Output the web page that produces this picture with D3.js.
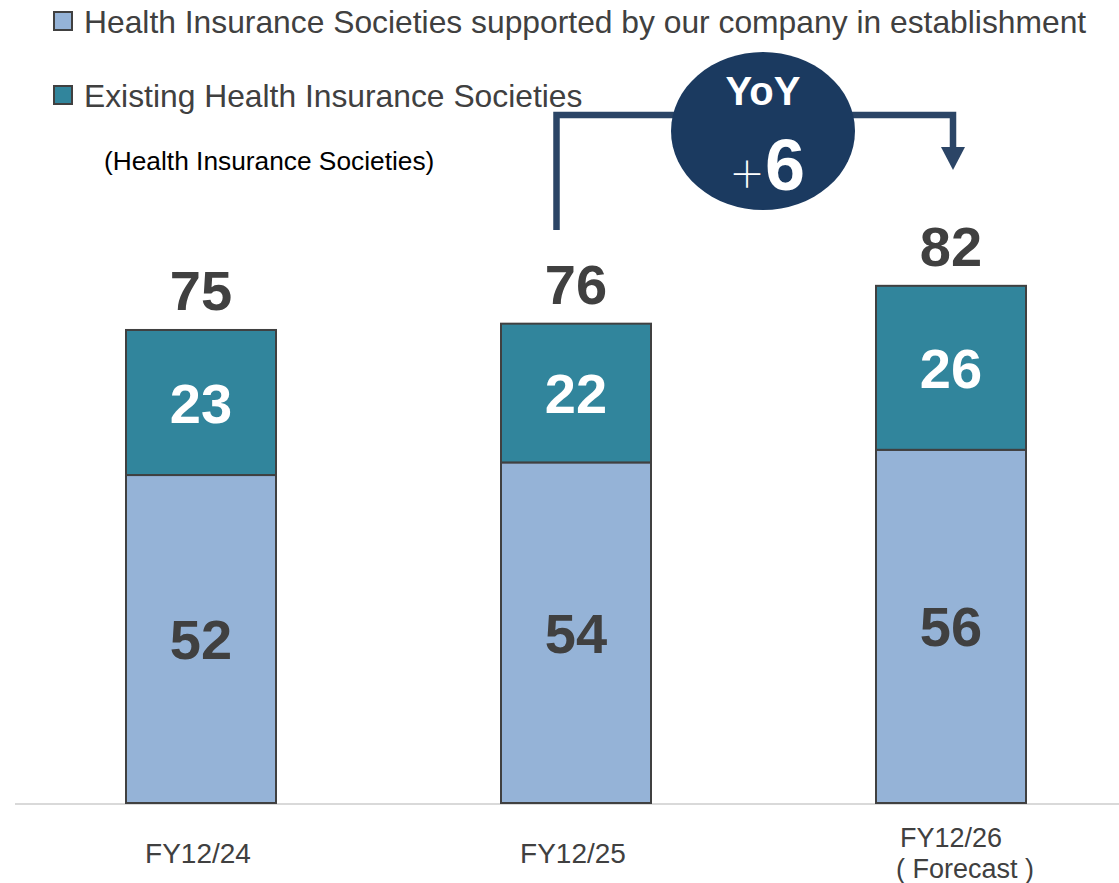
<!DOCTYPE html>
<html>
<head>
<meta charset="utf-8">
<script src="https://cdn.jsdelivr.net/npm/d3@7"></script>
<style>
  html, body { margin: 0; padding: 0; background: #ffffff; }
  svg { display: block; font-family: Arial, "Liberation Sans", sans-serif; }
</style>
</head>
<body>
<svg id="chart" width="1119" height="883"></svg>
<script>
// Fiscal years and their two stacked components
const categories = ["FY12/24", "FY12/25", "FY12/26"];
const categorySubLabels = ["", "", "( Forecast )"];
const supportedValues = [52, 54, 56];   // supported by our company in establishment
const existingValues = [23, 22, 26];    // existing societies
const totalValues = [75, 76, 82];
const seriesNames = [
  "Health Insurance Societies supported by our company in establishment",
  "Existing Health Insurance Societies"
];
const unitLabel = "(Health Insurance Societies)";
const yoyLabel = "YoY";
const yoyDelta = 6;

const colors = { supported: "#95b3d7", existing: "#31859c", stroke: "#404040",
                 text: "#404040", navy: "#1b3a60", connector: "#2b4566" };

const svg = d3.select("#chart");

const x = d3.scaleBand()
  .domain(categories)
  .range([13.5, 1138.5])
  .paddingInner(0.6)
  .paddingOuter(0.3);

const y = d3.scaleLinear().domain([0, 100]).range([803, 172.3]);

const rows = categories.map((c, i) => ({
  cat: c, sub: categorySubLabels[i],
  supported: supportedValues[i], existing: existingValues[i], total: totalValues[i]
}));

const stack = d3.stack().keys(["supported", "existing"]);
const layers = stack(rows);

// Baseline
svg.append("line")
  .attr("x1", 15).attr("x2", 1119)
  .attr("y1", y(0) + 1).attr("y2", y(0) + 1)
  .attr("stroke", "#d9d9d9").attr("stroke-width", 2);

// Stacked bars
const fills = { supported: colors.supported, existing: colors.existing };
layers.forEach(layer => {
  svg.append("g").selectAll("rect")
    .data(layer)
    .join("rect")
    .attr("x", d => x(d.data.cat))
    .attr("width", x.bandwidth())
    .attr("y", d => y(d[1]))
    .attr("height", d => y(d[0]) - y(d[1]))
    .attr("fill", fills[layer.key])
    .attr("stroke", colors.stroke)
    .attr("stroke-width", 2);
});

// Segment value labels
layers.forEach(layer => {
  svg.append("g").selectAll("text")
    .data(layer)
    .join("text")
    .attr("x", d => x(d.data.cat) + x.bandwidth() / 2)
    .attr("y", d => (y(d[0]) + y(d[1])) / 2 + 20)
    .attr("text-anchor", "middle")
    .attr("font-size", 56)
    .attr("font-weight", "bold")
    .attr("fill", layer.key === "existing" ? "#ffffff" : colors.text)
    .text(d => d.data[layer.key]);
});

// Totals above bars
svg.append("g").selectAll("text")
  .data(rows)
  .join("text")
  .attr("x", d => x(d.cat) + x.bandwidth() / 2)
  .attr("y", d => y(d.total) - 20)
  .attr("text-anchor", "middle")
  .attr("font-size", 56)
  .attr("font-weight", "bold")
  .attr("fill", colors.text)
  .text(d => d.total);

// Category labels
const catG = svg.append("g");
rows.forEach(d => {
  const cx = x(d.cat) + x.bandwidth() / 2;
  if (d.sub) {
    catG.append("text").attr("x", cx).attr("y", 847)
      .attr("text-anchor", "middle").attr("font-size", 27).attr("fill", colors.text)
      .text(d.cat);
    catG.append("text").attr("x", cx + 14).attr("y", 878)
      .attr("text-anchor", "middle").attr("font-size", 27).attr("fill", colors.text)
      .text(d.sub);
  } else {
    catG.append("text").attr("x", cx - 3).attr("y", 863)
      .attr("text-anchor", "middle").attr("font-size", 28).attr("fill", colors.text)
      .text(d.cat);
  }
});

// Legend
const legend = svg.append("g");
seriesNames.forEach((name, i) => {
  const ly = 12 + i * 74;
  legend.append("rect")
    .attr("x", 54).attr("y", ly).attr("width", 18).attr("height", 18)
    .attr("fill", i === 0 ? colors.supported : colors.existing)
    .attr("stroke", colors.stroke).attr("stroke-width", 2);
  legend.append("text")
    .attr("x", 84).attr("y", ly + 21)
    .attr("font-size", 31.8).attr("fill", colors.text)
    .text(name);
});
svg.append("text")
  .attr("x", 104).attr("y", 170)
  .attr("font-size", 26.3).attr("fill", "#000000")
  .text(unitLabel);

// YoY connector from FY12/25 to FY12/26 with arrowhead
const xa = x(categories[1]) + x.bandwidth() * 0.37;
const xb = x(categories[2]) + x.bandwidth() / 2 + 2;
const yTop = 115;
svg.append("path")
  .attr("d", `M${xa},230 V${yTop} H${xb} V150`)
  .attr("fill", "none")
  .attr("stroke", colors.connector)
  .attr("stroke-width", 6.5);
svg.append("path")
  .attr("d", `M${xb - 12},147 L${xb + 12},147 L${xb},170 Z`)
  .attr("fill", colors.connector);

// YoY bubble
const bx = 763, by = 131;
svg.append("ellipse")
  .attr("cx", bx).attr("cy", by).attr("rx", 92).attr("ry", 79)
  .attr("fill", colors.navy);
svg.append("text")
  .attr("x", bx).attr("y", 105)
  .attr("text-anchor", "middle").attr("font-size", 40).attr("font-weight", "bold")
  .attr("fill", "#ffffff").text(yoyLabel);
const deltaText = svg.append("text")
  .attr("x", bx + 4).attr("y", 190)
  .attr("text-anchor", "middle").attr("fill", "#ffffff");
deltaText.append("tspan")
  .attr("font-size", 36).attr("font-family", "'Noto Sans CJK JP', sans-serif")
  .attr("font-weight", 300).attr("dy", -2)
  .text("＋");
deltaText.append("tspan")
  .attr("font-size", 72).attr("font-weight", "bold").attr("dy", 2)
  .text(yoyDelta);
</script>
</body>
</html>
